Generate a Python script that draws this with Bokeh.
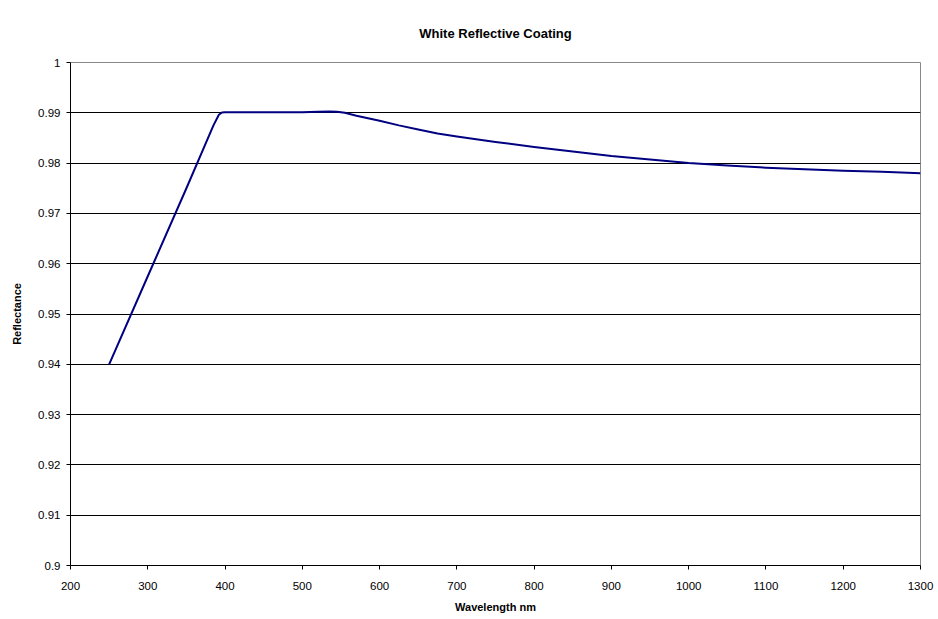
from bokeh.plotting import figure
from bokeh.embed import file_html
from bokeh.resources import INLINE
from bokeh.models import Range1d, FixedTicker

wavelength = [250, 300, 350, 385, 392, 396, 400, 450, 500, 520, 535, 545, 555, 570, 600, 625,
              650, 675, 700, 750, 800, 850, 900, 950, 1000, 1050, 1100, 1150, 1200, 1250, 1300]
reflectance = [0.940, 0.9575, 0.975, 0.9875, 0.9896, 0.99005, 0.9901, 0.9901, 0.9901, 0.9902,
               0.99025, 0.99022, 0.9900, 0.9894, 0.9884, 0.9875, 0.9867, 0.9859, 0.9853,
               0.9842, 0.9832, 0.9823, 0.9814, 0.9807, 0.9800, 0.9795, 0.9791, 0.9788,
               0.9785, 0.9783, 0.9780]
x_ticks = [200, 300, 400, 500, 600, 700, 800, 900, 1000, 1100, 1200, 1300]
y_ticks = [0.90, 0.91, 0.92, 0.93, 0.94, 0.95, 0.96, 0.97, 0.98, 0.99, 1.00]
y_tick_labels = ["0.9", "0.91", "0.92", "0.93", "0.94", "0.95", "0.96", "0.97", "0.98", "0.99", "1"]

FONT = "Liberation Sans"

p = figure(width=938, height=619, output_backend="svg", toolbar_location=None,
           x_range=Range1d(200, 1300), y_range=Range1d(0.9, 1.0),
           min_border_left=70, min_border_right=18, min_border_top=62, min_border_bottom=54)

p.title.text = "White Reflective Coating"
p.title.align = "center"
p.title.text_font = FONT
p.title.text_font_size = "13px"
p.title.text_font_style = "bold"
p.title.text_color = "#000000"
p.title.standoff = 43

p.line(wavelength, reflectance, line_color="#000080", line_width=2, line_join="round")

p.xaxis.ticker = FixedTicker(ticks=x_ticks)
p.yaxis.ticker = FixedTicker(ticks=y_ticks)
p.yaxis.major_label_overrides = {t: l for t, l in zip(y_ticks, y_tick_labels)}
p.xaxis.major_label_overrides = {t: str(t) for t in x_ticks}

for ax in (p.xaxis, p.yaxis):
    ax.axis_line_color = "#000000"
    ax.axis_line_width = 1
    ax.major_tick_line_color = "#000000"
    ax.major_tick_in = 0
    ax.major_tick_out = 4
    ax.minor_tick_line_color = None
    ax.major_label_text_font = FONT
    ax.major_label_text_font_size = "11.5px"
    ax.major_label_text_color = "#000000"
    ax.axis_label_text_font = FONT
    ax.axis_label_text_font_size = "11px"
    ax.axis_label_text_font_style = "bold"
    ax.axis_label_text_color = "#000000"

p.xaxis.axis_label = "Wavelength nm"
p.yaxis.axis_label = "Reflectance"
p.xaxis.major_label_standoff = 12
p.yaxis.major_label_standoff = 6
p.xaxis.axis_label_standoff = 8
p.yaxis.axis_label_standoff = 12

p.xgrid.grid_line_color = None
p.ygrid.grid_line_color = "#000000"
p.ygrid.grid_line_width = 1

p.outline_line_color = "#888888"
p.outline_line_width = 1
p.background_fill_color = "white"
p.border_fill_color = "white"

open("out.html", "w").write(file_html(p, INLINE))
